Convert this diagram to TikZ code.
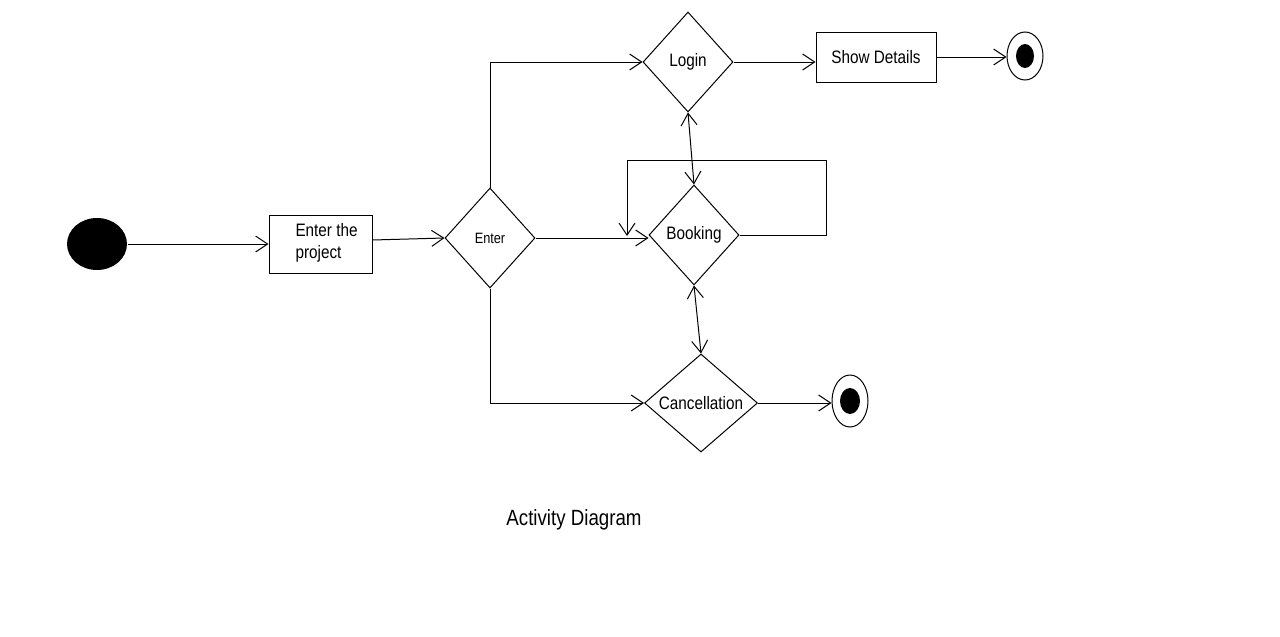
\documentclass[tikz,border=0pt]{standalone}
\usepackage{fontspec}
\setmainfont{Liberation Sans}
\newfontfamily\nfont[FakeStretch=0.85]{Liberation Sans}
\usetikzlibrary{shapes.geometric,arrows.meta}
\begin{document}
\begin{tikzpicture}[x=1pt,y=-1pt,line width=1pt,
  tip/.style={-{Straight Barb[length=12pt,width=16pt,line width=1pt]}},
  dtip/.style={{Straight Barb[length=12pt,width=16pt,line width=1pt]}-{Straight Barb[length=12pt,width=16pt,line width=1pt]}},
  actbox/.style={draw,rectangle,inner sep=0pt,font=\nfont\fontsize{18}{22}\selectfont},
  dec/.style={draw,diamond,inner sep=0pt,font=\nfont\fontsize{18}{22}\selectfont}]
\path[use as bounding box,fill=white] (0,0) rectangle (1280,637);
% nodes
\node[ellipse,fill=black,minimum width=60pt,minimum height=52pt,inner sep=0pt] (start) at (97,244) {};
\node[actbox,minimum width=103pt,minimum height=58pt] (enterproj) at (320.5,244) {};
\node[font=\nfont\fontsize{18}{22}\selectfont,align=left,inner sep=0pt,anchor=north west] (enterprojtxt) at (295,223) {Enter the\\project};
\node[dec,minimum width=90pt,minimum height=100pt,font=\nfont\fontsize{15}{18}\selectfont] (enter) at (490,238) {Enter};
\node[dec,minimum width=90pt,minimum height=100pt] (login) at (688,62) {Login};
\node[actbox,minimum width=120pt,minimum height=50pt] (show) at (876,57) {Show Details};
\node[ellipse,draw,minimum width=36pt,minimum height=48pt,inner sep=0pt] (end1) at (1025,56) {};
\node[ellipse,fill=black,minimum width=18pt,minimum height=24pt,inner sep=0pt] (end1in) at (end1) {};
\node[dec,minimum width=90pt,minimum height=100pt] (booking) at (694,235) {Booking};
\node[dec,minimum width=113pt,minimum height=98pt] (cancel) at (701,403) {Cancellation};
\node[ellipse,draw,minimum width=36pt,minimum height=52pt,inner sep=0pt] (end2) at (850,401) {};
\node[ellipse,fill=black,minimum width=20pt,minimum height=26pt,inner sep=0pt] (end2in) at (end2) {};
\node[font=\nfont\fontsize{22}{26}\selectfont] (title) at (574,520) {Activity Diagram};
% loop coordinates
\coordinate (loopr) at (826,160);
\coordinate (loopl) at (627,160);
\coordinate (loopend) at (627,236);
% connectors
\draw[tip] (start.east) -- (enterproj.west);
\draw[tip] (enterproj.east |- 0,240) -- (enter.west);
\draw[tip] (enter.north) |- (login.west);
\draw[tip] (login.east) -- (login.east -| show.west);
\draw[tip] (show.east) -- (show.east -| end1.west);
\draw[tip] (enter.east) -- (enter.east -| booking.west);
\draw[dtip] (login.south) -- (booking.north);
\draw[tip] (booking.east) -| (loopr) -- (loopl) -- (loopend);
\draw[dtip] (booking.south) -- (cancel.north);
\draw[tip] (enter.south) |- (cancel.west);
\draw[tip] (cancel.east) -- (cancel.east -| end2.west);
\end{tikzpicture}
\end{document}
